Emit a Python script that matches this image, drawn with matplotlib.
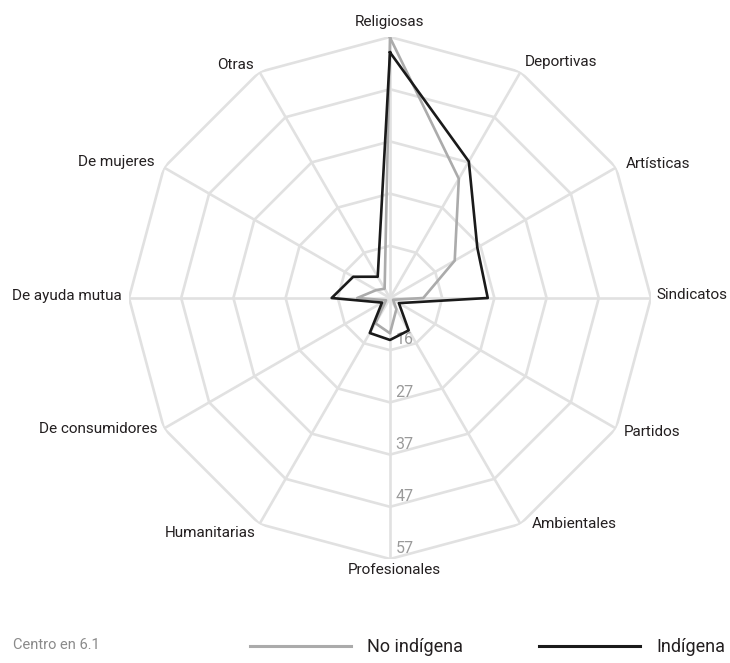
import numpy as np
import matplotlib
matplotlib.use('Agg')
import matplotlib.pyplot as plt
from matplotlib.lines import Line2D

plt.rcParams['font.family'] = ['Liberation Sans Narrow', 'Roboto', 'DejaVu Sans']

# categories clockwise from the top
categories = ['Religiosas', 'Deportivas', 'Artísticas', 'Sindicatos', 'Partidos',
              'Ambientales', 'Profesionales', 'Humanitarias', 'De consumidores',
              'De ayuda mutua', 'De mujeres', 'Otras']
no_indigena = [57.0, 33.0, 20.7, 12.6, 6.8, 8.6, 13.0, 11.8, 7.0, 12.5, 9.2, 8.2]
indigena = [54.1, 36.9, 25.8, 25.2, 8.1, 13.4, 14.3, 14.0, 7.9, 17.5, 14.4, 10.9]

center = 6.1
rings = [16.3, 26.5, 36.7, 46.9, 57.1]
ring_labels = ['16', '27', '37', '47', '57']

# label offsets in pixels (dx, dy) and alignment
label_pos = [
    (0, 8, 'center', 'bottom'),
    (4, 10, 'left', 'center'),
    (10, 4, 'left', 'center'),
    (5, 3, 'left', 'center'),
    (8, -4, 'left', 'center'),
    (11, 0, 'left', 'center'),
    (4, -4, 'center', 'top'),
    (-4, -9, 'right', 'center'),
    (-6, 0, 'right', 'center'),
    (-7, 2, 'right', 'center'),
    (-9, 6, 'right', 'center'),
    (-6, 7, 'right', 'center'),
]

grid_col = '#e1e1e1'
gray_col = '#ababab'
text_col = '#231f20'

angles = np.linspace(0, 2 * np.pi, len(categories), endpoint=False)
closed = np.append(angles, angles[0])

fig = plt.figure(figsize=(7.3, 6.63), dpi=100)
ax = fig.add_axes([129 / 730, 104 / 663, 522 / 730, 522 / 663], projection='polar')
ax.set_theta_zero_location('N')
ax.set_theta_direction(-1)
ax.set_ylim(center, rings[-1])
ax.spines['polar'].set_visible(False)
ax.set_xticks(angles)
ax.set_xticklabels([])
ax.set_yticks(rings)
ax.set_yticklabels([])
ax.yaxis.grid(False)
ax.xaxis.grid(True, color=grid_col, linewidth=1.9)
ax.tick_params(length=0)

# polygon rings
for r in rings:
    ax.plot(closed, [r] * len(closed), color=grid_col, linewidth=1.9, zorder=1)

ax.plot(closed, no_indigena + no_indigena[:1], color=gray_col, linewidth=1.9, zorder=3)
ax.plot(closed, indigena + indigena[:1], color='#1a1a1a', linewidth=1.9, zorder=4)

for a, lab, (dx, dy, ha, va) in zip(angles, categories, label_pos):
    ax.annotate(lab, xy=(a, rings[-1]), xytext=(dx * 0.72, dy * 0.72),
                textcoords='offset points', ha=ha, va=va, fontsize=11,
                color=text_col, annotation_clip=False)

for r, lab in zip(rings, ring_labels):
    ax.annotate(lab, xy=(np.pi, r), xytext=(4, 2), textcoords='offset points',
                ha='left', va='bottom', fontsize=11.5, color='#9a9a9a')

fig.text(13 / 730, (663 - 645) / 663, 'Centro en 6.1', fontsize=10.5,
         color='#8a8a8a', ha='left', va='center')

handles = [Line2D([], [], color=gray_col, linewidth=2.2),
           Line2D([], [], color='#1a1a1a', linewidth=2.2)]
fig.legend(handles, ['No indígena', 'Indígena'], loc='center left',
           bbox_to_anchor=(250 / 730, (663 - 647) / 663), ncol=2, frameon=False,
           fontsize=13, handlelength=5.6, handletextpad=0.9, columnspacing=4.2,
           borderpad=0, borderaxespad=0, labelcolor=text_col)

fig.savefig('out.png', dpi=100)
